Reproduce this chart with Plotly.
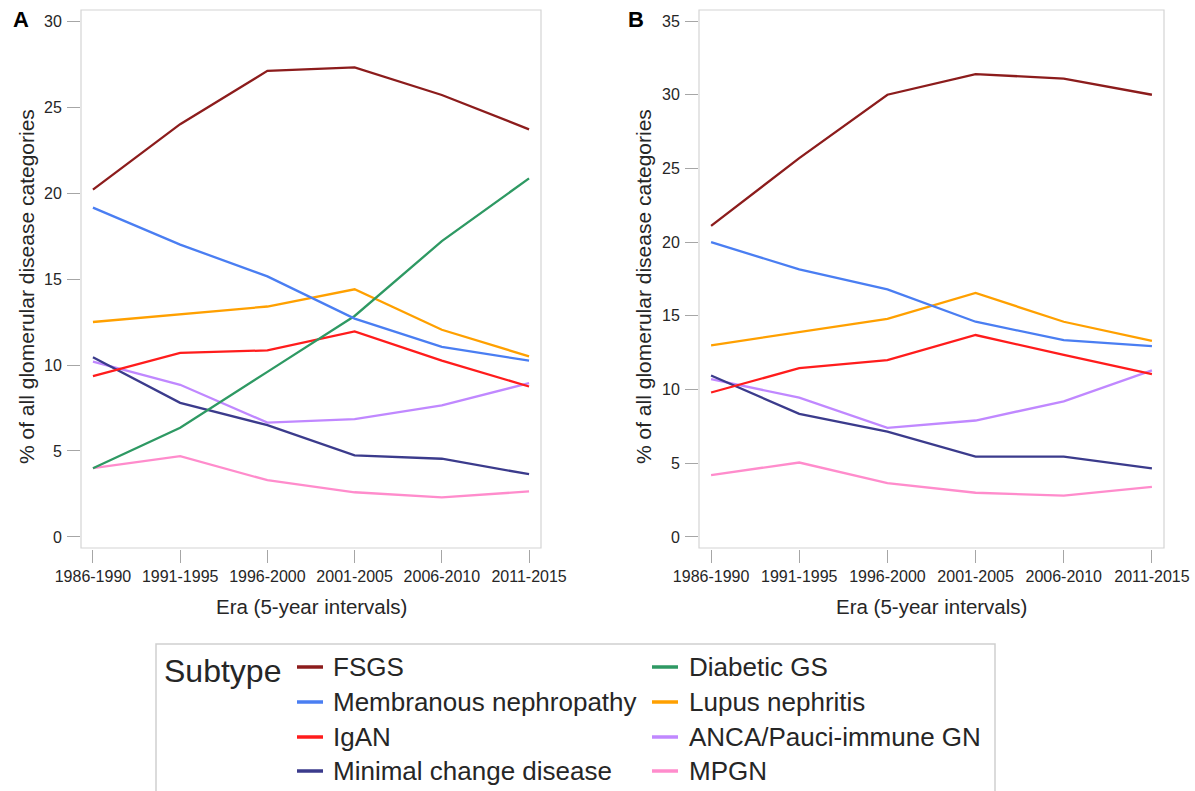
import plotly.graph_objects as go

W, H = 1195, 791

eras = ["1986-1990", "1991-1995", "1996-2000", "2001-2005", "2006-2010", "2011-2015"]

subtypes = ["FSGS", "Membranous nephropathy", "IgAN", "Minimal change disease",
            "Diabetic GS", "Lupus nephritis", "ANCA/Pauci-immune GN", "MPGN"]

colors = {
    "FSGS": "#8c1c1c",
    "Membranous nephropathy": "#4a7ef2",
    "IgAN": "#ff1c1c",
    "Minimal change disease": "#3b3b8c",
    "Diabetic GS": "#2e9963",
    "Lupus nephritis": "#ffa000",
    "ANCA/Pauci-immune GN": "#c088ff",
    "MPGN": "#ff8ccc",
}

# Panel A: all glomerular disease categories
fsgs_a = [20.2, 24.0, 27.1, 27.3, 25.7, 23.7]
membranous_a = [19.15, 17.0, 15.15, 12.7, 11.05, 10.25]
igan_a = [9.35, 10.7, 10.85, 11.95, 10.25, 8.75]
minimal_a = [10.45, 7.8, 6.5, 4.75, 4.55, 3.65]
diabetic_a = [4.0, 6.35, 9.6, 12.85, 17.2, 20.85]
lupus_a = [12.5, 12.95, 13.4, 14.4, 12.05, 10.5]
anca_a = [10.2, 8.85, 6.65, 6.85, 7.65, 8.95]
mpgn_a = [4.0, 4.7, 3.3, 2.6, 2.3, 2.65]

# Panel B
fsgs_b = [21.1, 25.7, 30.0, 31.4, 31.1, 30.0]
membranous_b = [20.0, 18.15, 16.8, 14.6, 13.35, 12.95]
igan_b = [9.8, 11.45, 12.0, 13.7, 12.35, 11.05]
minimal_b = [10.95, 8.35, 7.15, 5.45, 5.45, 4.65]
lupus_b = [13.0, 13.9, 14.8, 16.55, 14.6, 13.3]
anca_b = [10.7, 9.45, 7.4, 7.9, 9.2, 11.3]
mpgn_b = [4.2, 5.05, 3.65, 3.0, 2.8, 3.4]

panel_a = {
    "FSGS": fsgs_a, "Membranous nephropathy": membranous_a, "IgAN": igan_a,
    "Minimal change disease": minimal_a, "Diabetic GS": diabetic_a,
    "Lupus nephritis": lupus_a, "ANCA/Pauci-immune GN": anca_a, "MPGN": mpgn_a,
}
panel_b = {
    "FSGS": fsgs_b, "Membranous nephropathy": membranous_b, "IgAN": igan_b,
    "Minimal change disease": minimal_b, "Lupus nephritis": lupus_b,
    "ANCA/Pauci-immune GN": anca_b, "MPGN": mpgn_b,
}

yticks_a = [0, 5, 10, 15, 20, 25, 30]
yticks_b = [0, 5, 10, 15, 20, 25, 30, 35]

FONT = "Arial, Liberation Sans, sans-serif"
TXT = "#262626"


def px(x):
    return x / W


def py(y):
    return 1 - y / H


fig = go.Figure()

draw_order = ["MPGN", "ANCA/Pauci-immune GN", "Minimal change disease", "IgAN",
              "Lupus nephritis", "Diabetic GS", "Membranous nephropathy", "FSGS"]

for name in draw_order:
    if name in panel_a:
        fig.add_trace(go.Scatter(x=eras, y=panel_a[name], mode="lines", name=name,
                                 line=dict(color=colors[name], width=2.3),
                                 xaxis="x", yaxis="y", showlegend=False))
for name in draw_order:
    if name in panel_b:
        fig.add_trace(go.Scatter(x=eras, y=panel_b[name], mode="lines", name=name,
                                 line=dict(color=colors[name], width=2.3),
                                 xaxis="x2", yaxis="y2", showlegend=False))

# plot-area geometry (pixels)
A_L, A_R = 81, 541
B_L, B_R = 699, 1164
TOP, BOT = 10, 548

axis_common = dict(
    showgrid=False, zeroline=False, showline=False, automargin=False,
    ticks="outside", ticklen=13, tickwidth=1, tickcolor="#a6a6a6",
    tickfont=dict(family=FONT, size=16, color=TXT),
)

fig.update_layout(
    template="none",
    width=W, height=H,
    margin=dict(l=0, r=0, t=0, b=0, pad=0, autoexpand=False),
    paper_bgcolor="white", plot_bgcolor="white",
    showlegend=False,
    xaxis=dict(domain=[px(A_L), px(A_R)], anchor="free", position=py(BOT + 1),
               type="category", categoryorder="array", categoryarray=eras,
               range=[-0.137, 5.137], **axis_common),
    yaxis=dict(domain=[py(BOT), py(TOP)], anchor="free", position=px(A_L - 1),
               range=[-0.64, 30.64], tickvals=yticks_a, ticklabelstandoff=2,
               **axis_common),
    xaxis2=dict(domain=[px(B_L), px(B_R)], anchor="free", position=py(BOT + 1),
                type="category", categoryorder="array", categoryarray=eras,
                range=[-0.137, 5.137], **axis_common),
    yaxis2=dict(domain=[py(BOT), py(TOP)], anchor="free", position=px(B_L - 1),
                range=[-0.75, 35.75], tickvals=yticks_b, ticklabelstandoff=2,
                **axis_common),
)

shapes = []
# plot frames
for xr, yr in (("x", "y"), ("x2", "y2")):
    shapes.append(dict(type="rect", xref=f"{xr} domain", yref=f"{yr} domain",
                       x0=0, x1=1, y0=0, y1=1, line=dict(color="#d4d4d4", width=1.2),
                       fillcolor="rgba(0,0,0,0)", layer="below"))

annotations = []
# panel labels
annotations.append(dict(text="<b>A</b>", x=px(21), y=py(20), xref="paper", yref="paper",
                        xanchor="center", yanchor="middle", showarrow=False,
                        font=dict(family=FONT, size=22, color="black")))
annotations.append(dict(text="<b>B</b>", x=px(636), y=py(20), xref="paper", yref="paper",
                        xanchor="center", yanchor="middle", showarrow=False,
                        font=dict(family=FONT, size=22, color="black")))
# axis titles
ytitle = "% of all glomerular disease categories"
xtitle = "Era (5-year intervals)"
for cx in (26, 643):
    annotations.append(dict(text=ytitle, x=px(cx), y=py(287), xref="paper", yref="paper",
                            xanchor="center", yanchor="middle",
                            textangle=-90, showarrow=False,
                            font=dict(family=FONT, size=21, color=TXT)))
for cx in ((A_L + A_R) / 2, (B_L + B_R) / 2):
    annotations.append(dict(text=xtitle, x=px(cx), y=py(606), xref="paper", yref="paper",
                            xanchor="center", yanchor="middle",
                            showarrow=False, font=dict(family=FONT, size=20.5, color=TXT)))

# legend (drawn manually to match the two-column layout)
LG_L, LG_R, LG_T = 156, 995, 644
shapes.append(dict(type="rect", xref="paper", yref="paper",
                   x0=px(LG_L), x1=px(LG_R), y0=py(H + 20), y1=py(LG_T),
                   line=dict(color="#cfcfcf", width=1.5), fillcolor="rgba(0,0,0,0)"))
annotations.append(dict(text="Subtype", x=px(162), y=py(671), xref="paper", yref="paper",
                        xanchor="left", yanchor="middle", showarrow=False,
                        font=dict(family=FONT, size=32, color=TXT)))
col1 = ["FSGS", "Membranous nephropathy", "IgAN", "Minimal change disease"]
col2 = ["Diabetic GS", "Lupus nephritis", "ANCA/Pauci-immune GN", "MPGN"]
rows_y = [667, 702, 737, 771]
for col, dash_x, text_x in ((col1, 297, 331), (col2, 652, 687)):
    for name, ry in zip(col, rows_y):
        shapes.append(dict(type="line", xref="paper", yref="paper",
                           x0=px(dash_x), x1=px(dash_x + 26), y0=py(ry), y1=py(ry),
                           line=dict(color=colors[name], width=3.5)))
        annotations.append(dict(text=name, x=px(text_x), y=py(ry), xref="paper",
                                yref="paper", xanchor="left", yanchor="middle",
                                showarrow=False,
                                font=dict(family=FONT, size=26, color=TXT)))

fig.update_layout(shapes=shapes, annotations=annotations)

fig.write_html("out.html")
